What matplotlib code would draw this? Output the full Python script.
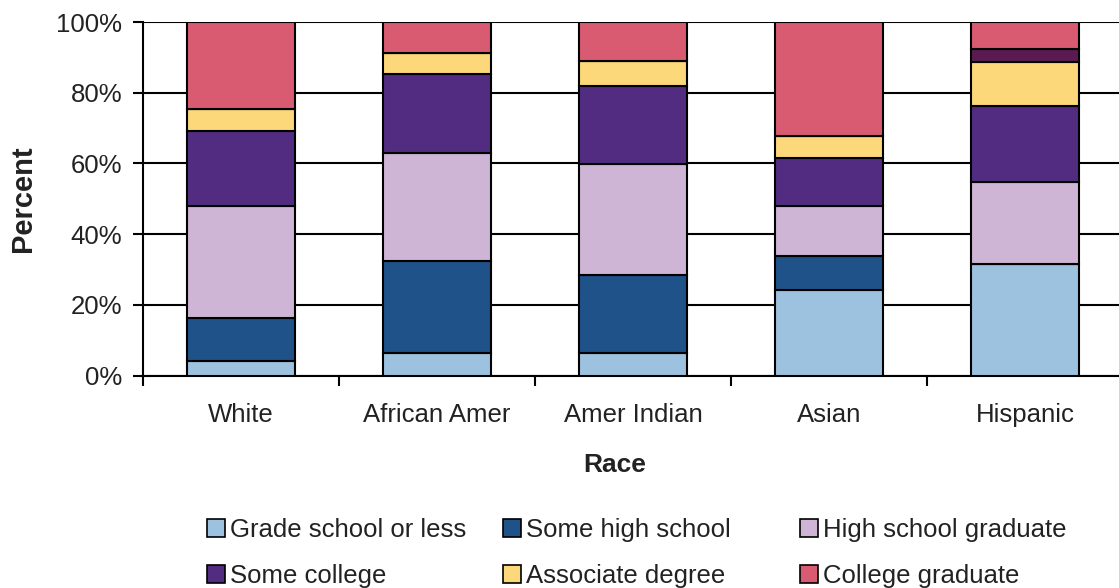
import matplotlib
matplotlib.use("Agg")
import matplotlib.pyplot as plt
from matplotlib.patches import Patch
import numpy as np

plt.rcParams['font.family'] = ['Liberation Sans', 'DejaVu Sans']

races = ["White", "African Amer", "Amer Indian", "Asian", "Hispanic"]

# Cumulative tops of each education level (percent)
grade_school = [4.1, 6.3, 6.3, 24.2, 31.5]
some_hs_top = [16.2, 32.5, 28.4, 33.9, 31.5]
hs_grad_top = [47.9, 62.9, 59.7, 47.9, 54.8]
some_college_top = [69.2, 85.3, 81.9, 61.6, 76.2]
associate_top = [75.3, 91.1, 89.0, 67.7, 88.8]
other_top = [75.3, 91.1, 89.0, 67.7, 92.3]
college_top = [100, 100, 100, 100, 100]

levels = ["Grade school or less", "Some high school", "High school graduate",
          "Some college", "Associate degree", "", "College graduate"]
tops = [grade_school, some_hs_top, hs_grad_top, some_college_top,
        associate_top, other_top, college_top]
colors = ["#9CC2E0", "#1F5288", "#CEB4D5", "#512C80", "#FCD87A", "#5C1B50", "#D95B72"]

fig = plt.figure(figsize=(11.19, 5.88), dpi=100)
ax = fig.add_axes([143 / 1119, 1 - 375.5 / 588, 980 / 1119, 353.5 / 588])

x = np.arange(len(races))
width = 0.55
prev = np.zeros(len(races))
for name, top, col in zip(levels, tops, colors):
    top = np.array(top, dtype=float)
    ax.bar(x, top - prev, width, bottom=prev, color=col, edgecolor="black",
           linewidth=1.5, zorder=3)
    prev = top

ax.set_xlim(-0.5, len(races) - 0.5)
ax.set_ylim(0, 100)

ax.set_yticks(np.arange(0, 101, 20))
ax.set_yticklabels([f"{v}%" for v in range(0, 101, 20)], fontsize=18.5, color="#222222")
ax.yaxis.grid(True, color="black", linewidth=1.5, zorder=0)
ax.set_axisbelow(True)

ax.set_xticks(np.arange(-0.5, len(races), 1.0))
ax.set_xticklabels([])
ax.set_xticks(x, minor=True)
ax.set_xticklabels(races, minor=True, fontsize=18.5, color="#222222")
ax.tick_params(axis="x", which="minor", length=0, pad=20)
ax.tick_params(axis="x", which="major", length=7, width=1.5, direction="out")
ax.tick_params(axis="y", length=7, width=1.5, direction="out", pad=8)

for side in ["top", "right"]:
    ax.spines[side].set_visible(False)
for side in ["left", "bottom"]:
    ax.spines[side].set_linewidth(1.5)
    ax.spines[side].set_color("black")

fig.text(23 / 1119, 1 - 199 / 588, "Percent", rotation=90, fontsize=21,
         fontweight="bold", ha="center", va="center", color="#222222")
fig.text(615 / 1119, 1 - 465 / 588, "Race", fontsize=19,
         fontweight="bold", ha="center", va="center", color="#222222")

# Legend laid out as three columns of two entries each
legend_cols = [[0, 3], [1, 4], [2, 6]]
col_x = [207, 503, 800]
for cx, idxs in zip(col_x, legend_cols):
    handles = [Patch(facecolor=colors[i], edgecolor="black", linewidth=1.2) for i in idxs]
    labels = [levels[i] for i in idxs]
    leg = fig.legend(handles, labels, loc="upper left",
                     bbox_to_anchor=(cx / 1119, 1 - 518 / 588),
                     frameon=False, fontsize=18.5, handlelength=0.7,
                     handleheight=0.7, handletextpad=0.2, labelspacing=0.85,
                     borderpad=0, borderaxespad=0)
    for t in leg.get_texts():
        t.set_color("#222222")

fig.savefig("out.png", dpi=100, facecolor="white")
